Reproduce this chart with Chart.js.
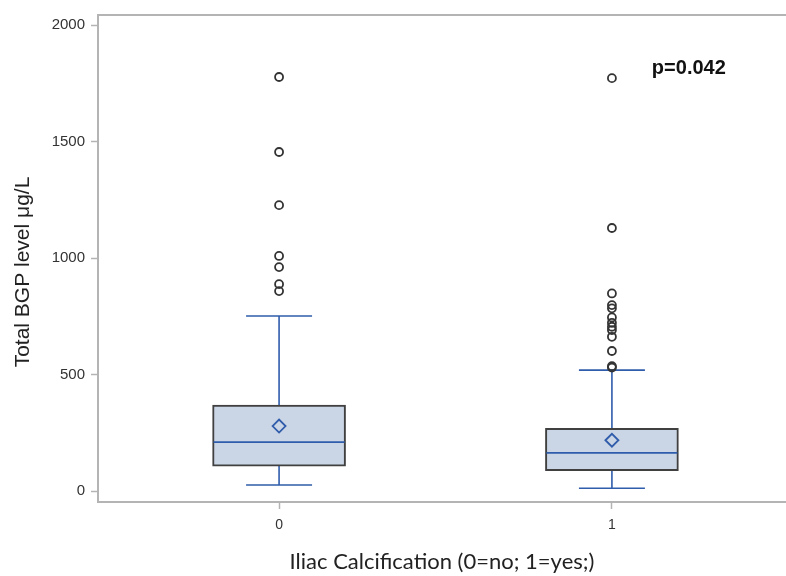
<!DOCTYPE html>
<html>
<head>
<meta charset="utf-8">
<script src="https://cdn.jsdelivr.net/npm/chart.js@4/dist/chart.umd.min.js"></script>
<style>
  body { margin: 0; background: #fff; }
  canvas { display: block; }
</style>
</head>
<body>
<canvas id="boxChart" width="786" height="576"></canvas>
<script>
// Box plot data (Total BGP level, µg/L)
const groups = [0, 1];
const groupLabels = ['0', '1'];
const whiskerLow = [26, 12];
const q1 = [107, 87];
const median = [210, 164];
const q3 = [369, 269];
const whiskerHigh = [751, 519];
const means = [279, 218];
const outliers0 = [1777, 1455, 1227, 1009, 961, 888, 858];
const outliers1 = [1772, 1129, 848, 798, 784, 745, 722, 705, 691, 662, 601, 536, 530];
const yTicks = [0, 500, 1000, 1500, 2000];
const pValue = 'p=0.042';
const yTitle = 'Total BGP level μg/L';

const blue = '#2f5cab';
const axisGray = '#b4b4b4';

// whiskers go under the datasets, median line + frame + p value on top
const boxParts = {
    id: 'boxParts',
    beforeDatasetsDraw(chart) {
        const { ctx, scales: { x, y } } = chart;
        ctx.save();
        ctx.strokeStyle = blue;
        ctx.lineWidth = 1.6;
        groups.forEach((g, i) => {
            const px = x.getPixelForValue(g);
            ctx.beginPath();
            ctx.moveTo(px, y.getPixelForValue(q3[i]));
            ctx.lineTo(px, y.getPixelForValue(whiskerHigh[i]));
            ctx.moveTo(px, y.getPixelForValue(q1[i]));
            ctx.lineTo(px, y.getPixelForValue(whiskerLow[i]));
            ctx.moveTo(px - 33, y.getPixelForValue(whiskerHigh[i]));
            ctx.lineTo(px + 33, y.getPixelForValue(whiskerHigh[i]));
            ctx.moveTo(px - 33, y.getPixelForValue(whiskerLow[i]));
            ctx.lineTo(px + 33, y.getPixelForValue(whiskerLow[i]));
            ctx.stroke();
        });
        ctx.restore();
    },
    afterDatasetsDraw(chart) {
        const { ctx, chartArea, scales: { x, y } } = chart;
        ctx.save();
        ctx.strokeStyle = blue;
        ctx.lineWidth = 1.6;
        groups.forEach((g, i) => {
            const px = x.getPixelForValue(g);
            const py = y.getPixelForValue(median[i]);
            ctx.beginPath();
            ctx.moveTo(px - 65.5, py);
            ctx.lineTo(px + 65.5, py);
            ctx.stroke();
        });
        // top frame line
        ctx.strokeStyle = axisGray;
        ctx.lineWidth = 2;
        ctx.beginPath();
        ctx.moveTo(chartArea.left, chartArea.top);
        ctx.lineTo(chartArea.right, chartArea.top);
        ctx.stroke();
        // p value
        ctx.fillStyle = '#111';
        ctx.font = 'bold 20px "Liberation Sans", Arial, sans-serif';
        ctx.textBaseline = 'alphabetic';
        ctx.fillText(pValue, x.getPixelForValue(1.12), y.getPixelForValue(1790));
        // y axis title (sits a bit below the plot centre in the original)
        ctx.translate(28.5, 272);
        ctx.rotate(-Math.PI / 2);
        ctx.fillStyle = '#222';
        ctx.font = '21px "Liberation Sans", Arial, sans-serif';
        ctx.textAlign = 'center';
        ctx.fillText(yTitle, 0, 0);
        ctx.restore();
    }
};

const ctx = document.getElementById('boxChart').getContext('2d');
new Chart(ctx, {
    type: 'bar',
    data: {
        datasets: [{
            label: 'IQR',
            data: groups.map((g, i) => ({ x: g, y: [q1[i], q3[i]] })),
            backgroundColor: '#cad5e5',
            borderColor: '#404040',
            borderWidth: 2,
            borderSkipped: false,
            barThickness: 133,
            order: 3
        }, {
            type: 'scatter',
            label: 'Outliers',
            data: outliers0.map(v => ({ x: groups[0], y: v }))
                .concat(outliers1.map(v => ({ x: groups[1], y: v }))),
            pointStyle: 'circle',
            pointRadius: 4,
            borderColor: '#333',
            borderWidth: 1.8,
            backgroundColor: 'rgba(255,255,255,0)',
            order: 2
        }, {
            type: 'scatter',
            label: 'Mean',
            data: groups.map((g, i) => ({ x: g, y: means[i] })),
            pointStyle: 'rectRot',
            pointRadius: 6.5,
            borderColor: blue,
            borderWidth: 1.8,
            backgroundColor: 'rgba(255,255,255,0)',
            order: 1
        }]
    },
    options: {
        responsive: false,
        animation: false,
        devicePixelRatio: 1,
        layout: { autoPadding: false, padding: { top: 15, right: 0, left: 0, bottom: 0 } },
        plugins: { legend: { display: false }, tooltip: { enabled: false } },
        scales: {
            x: {
                type: 'linear',
                min: -0.544,
                max: 1.523,
                offset: false,
                afterBuildTicks: scale => { scale.ticks = groups.map(v => ({ value: v })); },
                afterFit: scale => { scale.height = 74; },
                ticks: {
                    callback: (v) => groupLabels[groups.indexOf(v)],
                    color: '#333',
                    font: { family: '"Liberation Sans", Arial, sans-serif', size: 14 },
                    padding: 8,
                    maxRotation: 0
                },
                grid: { display: true, drawOnChartArea: false, offset: false, tickLength: 7, color: axisGray, tickWidth: 1.5 },
                border: { display: true, color: axisGray, width: 2 },
                title: {
                    display: true,
                    text: 'Iliac Calcification (0=no; 1=yes;)',
                    color: '#222',
                    font: { family: 'Lato, "Open Sans", sans-serif', size: 22 },
                    padding: { top: 0, bottom: 1 }
                }
            },
            y: {
                min: -47,
                max: 2043,
                afterBuildTicks: scale => { scale.ticks = yTicks.map(v => ({ value: v })); },
                afterFit: scale => { scale.width = 98; },
                ticks: {
                    callback: (v) => String(v),
                    color: '#333',
                    font: { family: '"Liberation Sans", Arial, sans-serif', size: 15 },
                    padding: 6
                },
                grid: { display: true, drawOnChartArea: false, tickLength: 7, color: axisGray, tickWidth: 1.5 },
                border: { display: true, color: axisGray, width: 2 }
            }
        }
    },
    plugins: [boxParts]
});
</script>
</body>
</html>
